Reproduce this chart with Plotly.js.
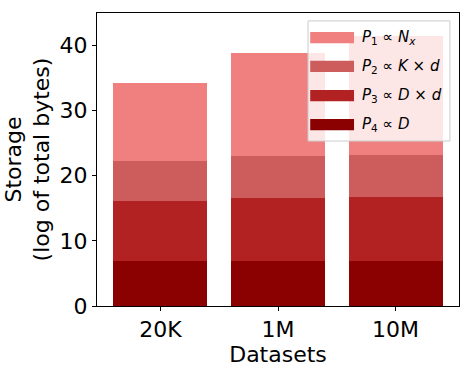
<!DOCTYPE html>
<html>
<head>
<meta charset="utf-8">
<script src="https://cdn.plot.ly/plotly-3.0.1.min.js"></script>
<style>
  body { margin: 0; background: #fff; }
  #chart { width: 472px; height: 371px; }
</style>
</head>
<body>
<div id="chart"></div>
<script>
const datasets = ["20K", "1M", "10M"];

// stacked parts (bottom to top)
const p4 = [6.91, 6.91, 6.91];
const p3 = [9.22, 9.68, 9.84];
const p2 = [6.15, 6.51, 6.45];
const p1 = [11.99, 15.78, 18.34];

const partNames = [
    "<i>P</i><sub>4</sub> ∝ <i>D</i>",
    "<i>P</i><sub>3</sub> ∝ <i>D</i> × <i>d</i>",
    "<i>P</i><sub>2</sub> ∝ <i>K</i> × <i>d</i>",
    "<i>P</i><sub>1</sub> ∝ <i>N</i><sub><i>x</i></sub>",
];
const partColors = ["#8b0000", "#b22222", "#cd5c5c", "#f08080"];

const font = "DejaVu Sans, sans-serif";

let data = [p4, p3, p2, p1].map((vals, i) => ({
    type: "bar",
    x: datasets,
    y: vals,
    name: partNames[i],
    width: 0.8,
    marker: { color: partColors[i], line: { width: 0 } },
    hoverinfo: "skip",
    showlegend: false,
}));

// matplotlib-style legend box with wide swatches (paper coords)
const shapes = [{
    type: "rect", xref: "paper", yref: "paper", layer: "above",
    x0: 0.583, x1: 0.975, y0: 0.563, y1: 0.973,
    fillcolor: "rgba(255,255,255,0.8)",
    line: { color: "#cccccc", width: 1 },
}];
const annotations = [];
const rowY = [0.619, 0.718, 0.818, 0.916]; // P4 .. P1 row centres
for (let i = 0; i < 4; i++) {
    shapes.push({
        type: "rect", xref: "paper", yref: "paper", layer: "above",
        x0: 0.589, x1: 0.710, y0: rowY[i] - 0.019, y1: rowY[i] + 0.019,
        fillcolor: partColors[i], line: { width: 0 },
    });
    annotations.push({
        xref: "paper", yref: "paper", x: 0.726, y: rowY[i],
        xanchor: "left", yanchor: "middle", showarrow: false,
        text: partNames[i], font: { family: font, size: 15, color: "#000" },
    });
}

let layout = {
    width: 472,
    height: 371,
    barmode: "stack",
    paper_bgcolor: "#fff",
    plot_bgcolor: "#fff",
    margin: { l: 97, r: 13, t: 13, b: 65 },
    font: { family: font, color: "#000", size: 22 },
    showlegend: false,
    shapes: shapes,
    annotations: annotations,
    xaxis: {
        type: "category",
        range: [-0.54, 2.54],
        showline: true,
        mirror: true,
        linecolor: "#000",
        linewidth: 1,
        ticks: "outside",
        ticklen: 4,
        tickcolor: "#000",
        showgrid: false,
        tickfont: { size: 22 },
        title: { text: "Datasets", font: { size: 22 }, standoff: 0 },
    },
    yaxis: {
        range: [0, 45],
        tickvals: [0, 10, 20, 30, 40],
        showline: true,
        mirror: true,
        linecolor: "#000",
        linewidth: 1,
        ticks: "outside",
        ticklen: 4,
        tickcolor: "#000",
        showgrid: false,
        zeroline: false,
        tickfont: { size: 22 },
        title: { text: "Storage<br>(log of total bytes)", font: { size: 22 }, standoff: 3 },
    },
};

Plotly.newPlot("chart", data, layout, { displayModeBar: false, staticPlot: true });
</script>
</body>
</html>
